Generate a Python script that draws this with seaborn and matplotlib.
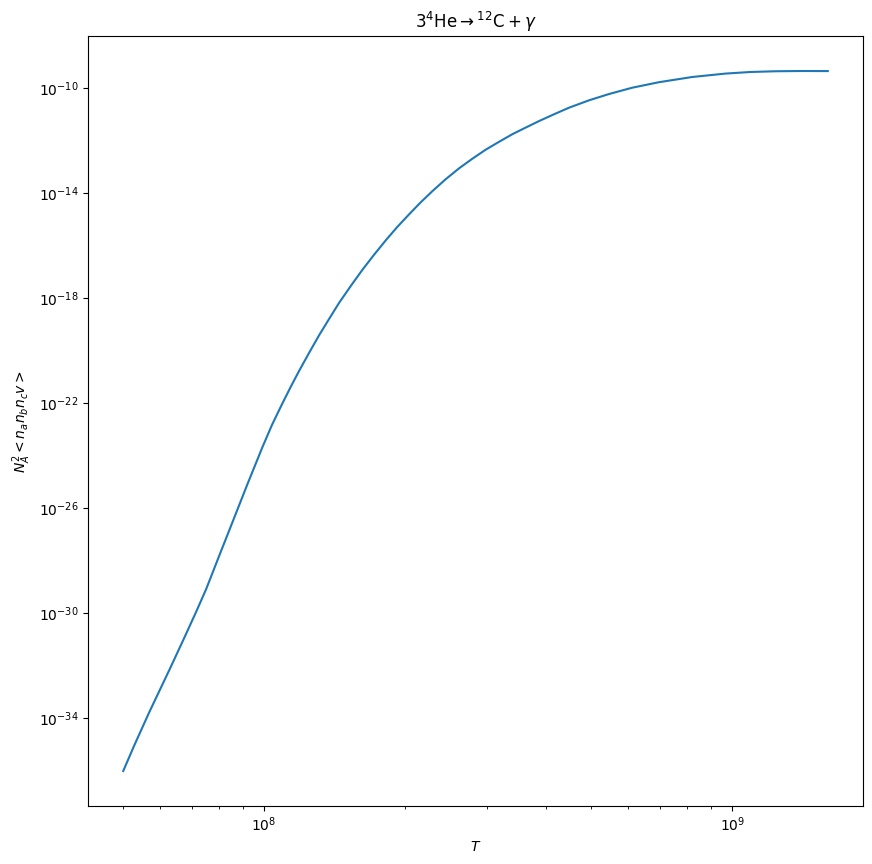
import matplotlib
matplotlib.use("Agg")
import matplotlib.pyplot as plt
import seaborn as sns
import pandas as pd

# Temperature (K)
temperature = [5.00e7, 5.28e7, 5.68e7, 6.27e7, 6.75e7, 7.16e7, 7.52e7, 8.01e7,
               8.59e7, 9.20e7, 9.92e7, 1.040e8, 1.094e8, 1.142e8, 1.188e8,
               1.248e8, 1.311e8, 1.377e8, 1.446e8, 1.534e8, 1.622e8, 1.717e8,
               1.819e8, 1.923e8, 2.040e8, 2.158e8, 2.287e8, 2.440e8, 2.608e8,
               2.781e8, 2.973e8, 3.175e8, 3.390e8, 3.617e8, 3.865e8, 4.160e8,
               4.480e8, 4.941e8, 5.452e8, 6.114e8, 6.970e8, 8.213e8, 9.676e8,
               1.094e9, 1.237e9, 1.405e9, 1.600e9]

# Reaction rate N_A^2 <n_a n_b n_c v>
rate = [1.00e-36, 9.5e-36, 1.70e-34, 6.92e-33, 1.17e-31, 1.17e-30, 8.51e-30,
        1.51e-28, 3.55e-27, 7.94e-26, 2.19e-24, 1.55e-23, 1.00e-22, 4.57e-22,
        1.74e-21, 8.51e-21, 3.98e-20, 1.66e-19, 6.76e-19, 3.09e-18, 1.23e-17,
        4.57e-17, 1.62e-16, 5.13e-16, 1.58e-15, 4.47e-15, 1.20e-14, 3.39e-14,
        8.91e-14, 2.04e-13, 4.57e-13, 9.12e-13, 1.78e-12, 3.16e-12, 5.62e-12,
        1.02e-11, 1.82e-11, 3.47e-11, 6.03e-11, 1.05e-10, 1.70e-10, 2.69e-10,
        3.63e-10, 4.17e-10, 4.45e-10, 4.55e-10, 4.52e-10]

df = pd.DataFrame({"T": temperature, "rate": rate})

fig = plt.figure(figsize=(8.72, 8.64), dpi=100)
ax = fig.add_axes([88/872, 1 - 806/864, (863-88)/872, (806-36)/864])

sns.lineplot(data=df, x="T", y="rate", ax=ax, color="#1f77b4",
             linewidth=1.5, estimator=None, sort=True)
ax.set_xscale("log")
ax.set_yscale("log")
ax.set_xlabel("$T$")
ax.set_ylabel("$N_A^2 <n_a n_b n_c v>$")
ax.set_title(r"$3^4\mathrm{He} \rightarrow ^{12}\mathrm{C} + \gamma$")

fig.savefig("out.png", dpi=100)
